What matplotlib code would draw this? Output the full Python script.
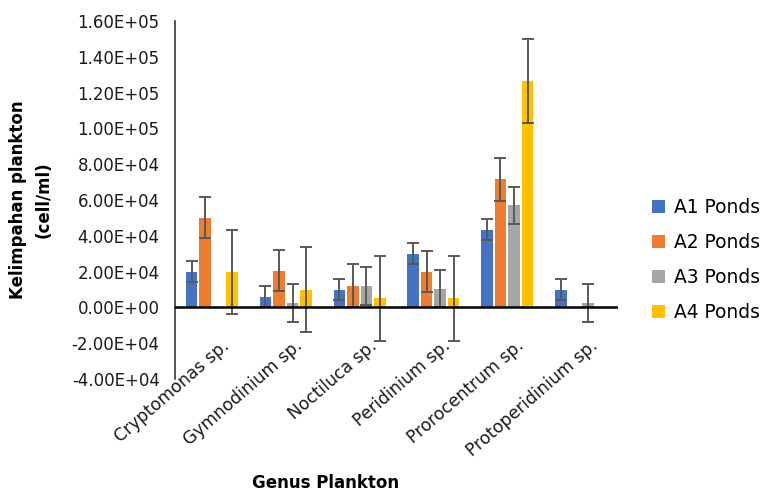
import matplotlib
matplotlib.use("Agg")
import matplotlib.pyplot as plt
import matplotlib.transforms as mtransforms
import numpy as np
from matplotlib.ticker import FuncFormatter

categories = ["Cryptomonas sp.", "Gymnodinium sp.", "Noctiluca sp.", "Peridinium sp.",
              "Prorocentrum sp.", "Protoperidinium sp."]
series_names = ["A1 Ponds", "A2 Ponds", "A3 Ponds", "A4 Ponds"]
nan = np.nan
a1 = [20000, 6000, 10000, 30000, 43500, 10000]
a2 = [50000, 20500, 12000, 20000, 71500, nan]
a3 = [nan, 2500, 12000, 10500, 57000, 2500]
a4 = [20000, 10000, 5000, 5000, 126500, nan]
e1 = [6000, 6000, 6000, 6000, 6000, 6000]
e2 = [11500, 11500, 12000, 11500, 12000, nan]
e3 = [nan, 10500, 10500, 10500, 10500, 10500]
e4 = [23500, 23500, 23500, 23500, 23500, nan]
values = [a1, a2, a3, a4]
errors = [e1, e2, e3, e4]
colors = ["#4472C4", "#ED7D31", "#A5A5A5", "#FFC000"]
yticks = np.arange(-40000, 160001, 20000)

plt.rcParams['font.family'] = ['DejaVu Sans']
fig = plt.figure(figsize=(7.66, 4.93), dpi=100)
ax = fig.add_axes([175/766, 1-379/493, (618-175)/766, (379-21)/493])

x = np.arange(len(categories))
width = 0.155
step = 0.183
for i, (vals, errs, c, name) in enumerate(zip(values, errors, colors, series_names)):
    pos = x + (i - 1.5) * step
    ax.bar(pos, vals, width=width, color=c, label=name, zorder=2)
    ax.errorbar(pos, vals, yerr=errs, fmt='none', ecolor='#595959', elinewidth=1.4,
                capsize=4, capthick=1.4, zorder=3)

ax.set_ylim(-40000, 160000)
ax.set_xlim(-0.5, len(categories) - 0.5)
ax.set_yticks(yticks)
ax.yaxis.set_major_formatter(FuncFormatter(lambda v, p: f"{v:.2E}"))
ax.tick_params(axis='y', length=0, labelsize=12, pad=11, labelcolor='#1a1a1a')
ax.set_xticks(x)
ax.set_xticklabels([])
ax.tick_params(axis='x', length=0)
for s in ['top', 'right', 'bottom']:
    ax.spines[s].set_visible(False)
ax.spines['left'].set_color('#262626')
ax.spines['left'].set_linewidth(1.1)
ax.axhline(0, color='black', linewidth=1.8, zorder=4)

# category labels: right end of baseline anchored near each tick, Excel style
blend = mtransforms.blended_transform_factory(ax.transData, ax.transAxes)
offset = mtransforms.ScaledTranslation(18/100, 32/100, fig.dpi_scale_trans)
for xi, lab in zip(x, categories):
    ax.text(xi, 0, lab, transform=blend + offset, ha='right', va='baseline',
            rotation=41, rotation_mode='anchor', fontsize=12.3, color='#1a1a1a',
            clip_on=False)

fig.text(31/766, 1-200/493, "Kelimpahan plankton\n(cell/ml)", rotation=90, ha='center',
         va='center', fontsize=12, fontweight='bold', linespacing=1.55)
fig.text(326/766, 1-483/493, "Genus Plankton", ha='center', va='center',
         fontsize=12, fontweight='bold')

leg = fig.legend(loc='center left', bbox_to_anchor=(652/766, 1-260/493), frameon=False,
                 fontsize=13.4, handlelength=0.72, handleheight=0.72, labelspacing=0.85,
                 handletextpad=0.45, borderpad=0, borderaxespad=0)

fig.savefig("out.png", dpi=100)
